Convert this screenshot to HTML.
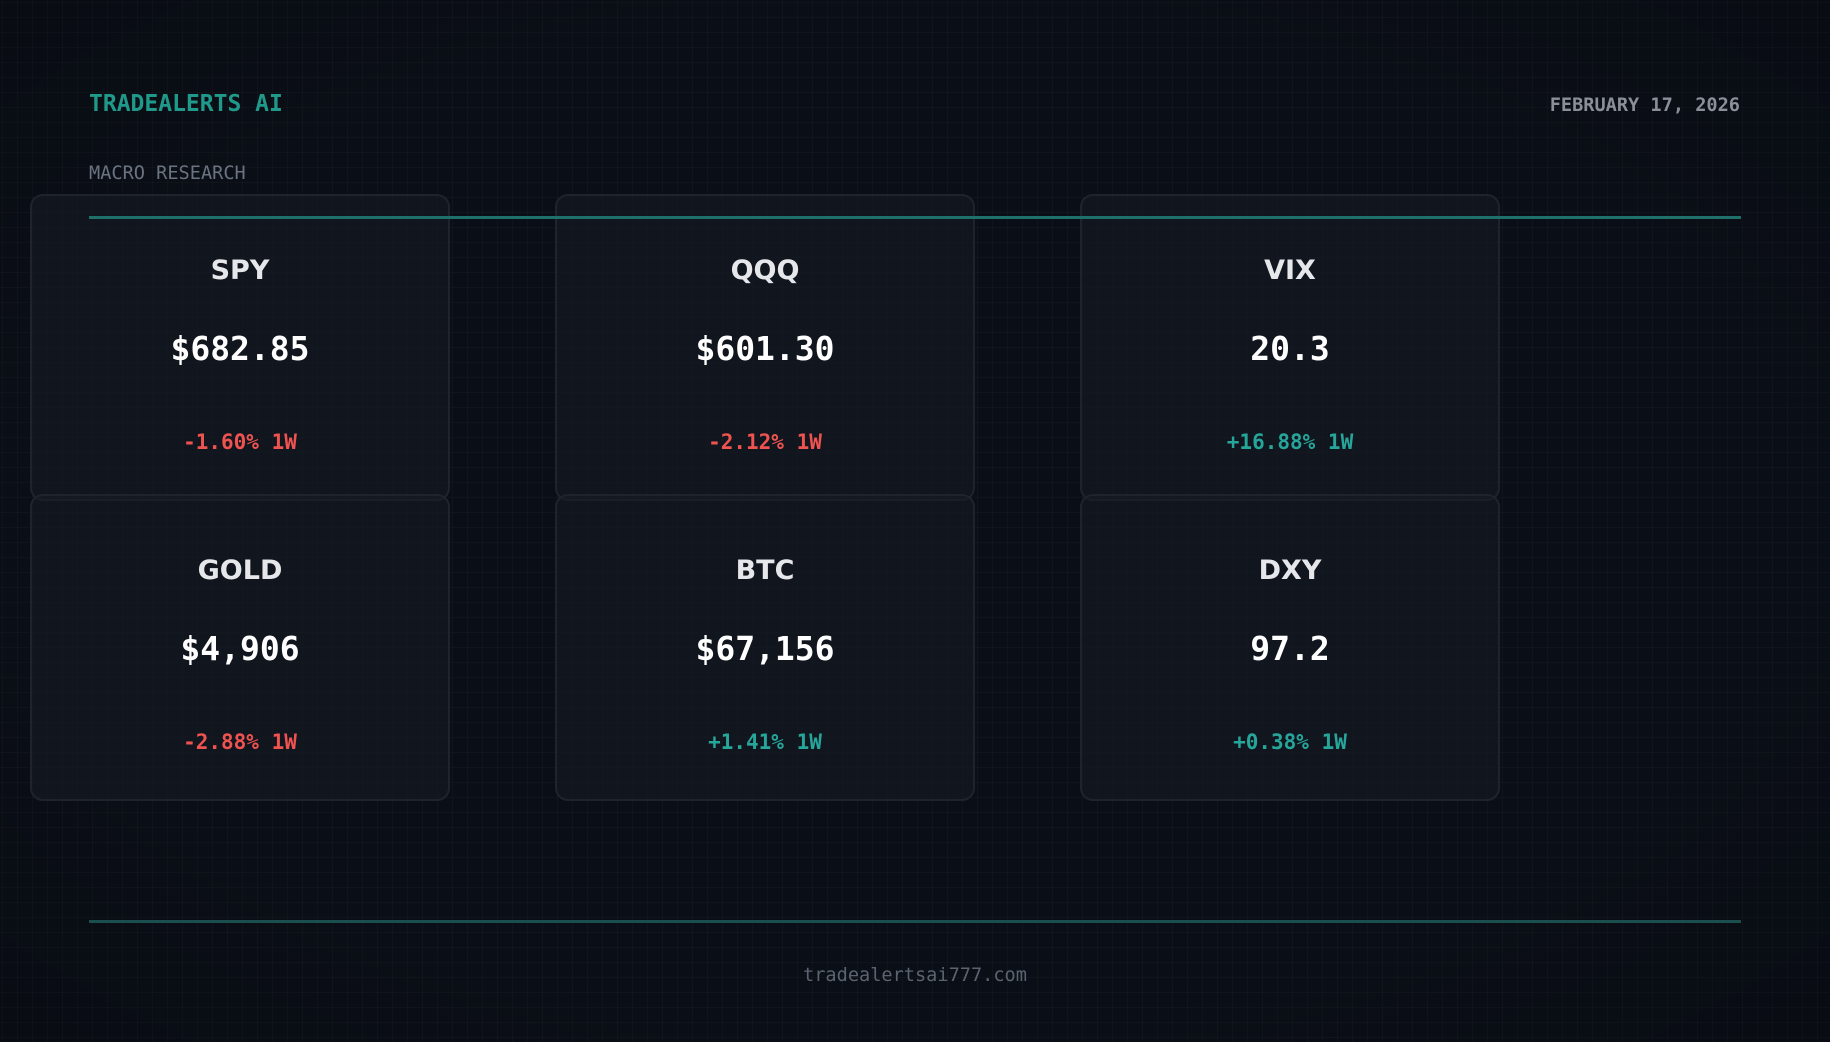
<!DOCTYPE html>
<html><head><meta charset="utf-8"><style>
*{margin:0;padding:0;box-sizing:border-box}
body{width:1830px;height:1042px;overflow:hidden;background:#0a0e16;position:relative;font-family:"DejaVu Sans Mono","Liberation Mono",monospace}
.grid{position:absolute;inset:0;background-image:linear-gradient(rgba(255,255,255,0.022) 1px,transparent 1px),linear-gradient(90deg,rgba(255,255,255,0.022) 1px,transparent 1px);background-size:15px 15px;background-position:2px 2px}
.vig{position:absolute;inset:0;background:radial-gradient(ellipse at center,rgba(0,0,0,0) 65%,rgba(0,0,0,0.15) 100%)}
.t{position:absolute;white-space:nowrap}
.card{position:absolute;width:420px;height:307px;background:rgba(22,27,36,0.6);border:2px solid #1e232c;border-radius:13px}
.card .n{position:absolute;left:0;right:0;top:59px;text-align:center;font-family:"DejaVu Sans",sans-serif;font-weight:bold;font-size:27px;color:#e5e7eb}
.card .p{position:absolute;left:0;right:0;top:133px;text-align:center;font-weight:bold;font-size:33px;color:#fff}
.card .c{position:absolute;left:0;right:0;top:234px;text-align:center;font-weight:bold;font-size:21px}
.r{color:#ef5350}.g{color:#26a69a}
</style></head><body>
<div class="grid"></div><div class="vig"></div>
<div class="t" style="left:89px;top:91px;font-size:23px;font-weight:bold;color:#1f9a8a">TRADEALERTS AI</div>
<div class="t" style="right:90px;top:95px;font-size:18.6px;font-weight:bold;color:#8a8f99">FEBRUARY 17, 2026</div>
<div class="t" style="left:89px;top:163px;font-size:18.6px;color:#6b7280">MACRO RESEARCH</div>
<div class="card" style="left:30px;top:194px"><div class="n">SPY</div><div class="p">$682.85</div><div class="c r">-1.60% 1W</div></div>
<div class="card" style="left:555px;top:194px"><div class="n">QQQ</div><div class="p">$601.30</div><div class="c r">-2.12% 1W</div></div>
<div class="card" style="left:1080px;top:194px"><div class="n">VIX</div><div class="p">20.3</div><div class="c g">+16.88% 1W</div></div>
<div class="card" style="left:30px;top:494px"><div class="n">GOLD</div><div class="p">$4,906</div><div class="c r">-2.88% 1W</div></div>
<div class="card" style="left:555px;top:494px"><div class="n">BTC</div><div class="p">$67,156</div><div class="c g">+1.41% 1W</div></div>
<div class="card" style="left:1080px;top:494px"><div class="n">DXY</div><div class="p">97.2</div><div class="c g">+0.38% 1W</div></div>
<div style="position:absolute;left:89px;top:216px;width:1652px;height:3px;background:#1f6f6a"></div>
<div style="position:absolute;left:89px;top:920px;width:1652px;height:3px;background:#1b4f4f"></div>
<div class="t" style="left:0;width:1830px;text-align:center;top:965px;font-size:18.6px;color:#5c6370">tradealertsai777.com</div>
</body></html>
